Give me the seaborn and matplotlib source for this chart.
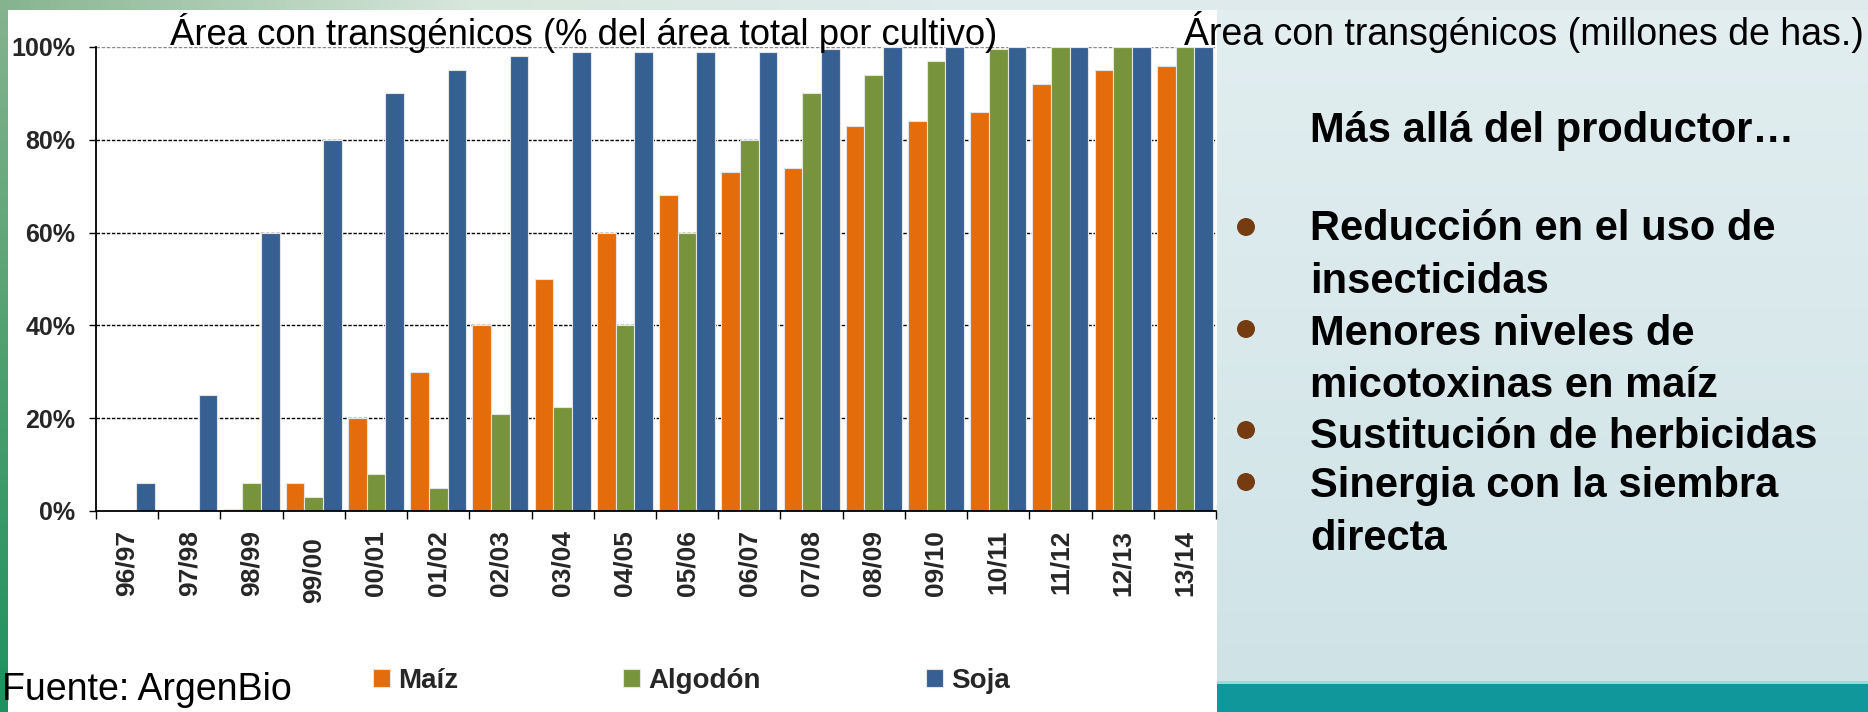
import numpy as np
import pandas as pd
import matplotlib
matplotlib.use("Agg")
import matplotlib.pyplot as plt
import seaborn as sns
from matplotlib.patches import Rectangle, Ellipse
from matplotlib.colors import LinearSegmentedColormap
from matplotlib.transforms import ScaledTranslation

# ---------------- data ----------------
campanas = ['96/97', '97/98', '98/99', '99/00', '00/01', '01/02', '02/03', '03/04', '04/05',
            '05/06', '06/07', '07/08', '08/09', '09/10', '10/11', '11/12', '12/13', '13/14']
maiz = [0, 0, 0.5, 6, 20, 30, 40, 50, 60, 68, 73, 74, 83, 84, 86, 92, 95, 96]
algodon = [0, 0, 6, 3, 8, 5, 21, 22.5, 40, 60, 80, 90, 94, 97, 99.5, 100, 100, 100]
soja = [6, 25, 60, 80, 90, 95, 98, 99, 99, 99, 99, 99.5, 100, 100, 100, 100, 100, 100]
cultivos = ['Maíz', 'Algodón', 'Soja']
colores = ['#E46C0A', '#77933C', '#376092']
y_ticks = [0, 20, 40, 60, 80, 100]

titulo_izq = 'Área con transgénicos (% del área total por cultivo)'
titulo_der = 'Área con transgénicos (millones de has.)'
fuente = 'Fuente: ArgenBio'
encabezado = 'Más allá del productor…'
lineas = ['Reducción en el uso de', 'insecticidas', 'Menores niveles de',
          'micotoxinas en maíz', 'Sustitución de herbicidas',
          'Sinergia con la siembra', 'directa']

df = pd.DataFrame({
    'Campaña': campanas * 3,
    'Cultivo': np.repeat(cultivos, len(campanas)),
    'Valor': maiz + algodon + soja,
})

# ---------------- figure ----------------
sns.set_theme(style='white')
plt.rcParams['font.family'] = ['Liberation Sans', 'DejaVu Sans']

W, H = 1868, 712
fig = plt.figure(figsize=(W / 100, H / 100), dpi=100)
fig.patch.set_facecolor('#d4e6ea')

def fx(px):
    return px / W

def fy(py):
    return 1 - py / H

# slide decoration
bg = fig.add_axes([0, 0, 1, 1], zorder=-10)
bg.set_xlim(0, W); bg.set_ylim(H, 0); bg.axis('off')
grad = np.linspace(0, 1, 256).reshape(-1, 1)
bg.imshow(grad, extent=(1217, W, 683, 10), aspect='auto',
          cmap=LinearSegmentedColormap.from_list('r', ['#e2eef0', '#cfe3e7']), zorder=0)
bg.add_patch(Rectangle((1217, 683), W - 1217, H - 683, facecolor='#0f979c', edgecolor='none', zorder=1))
bg.add_patch(Rectangle((1217, 681), W - 1217, 3, facecolor='#9fd6d8', edgecolor='none', zorder=1))
hgrad = np.linspace(0, 1, 512).reshape(1, -1)
bg.imshow(hgrad, extent=(0, W, 10, 0), aspect='auto',
          cmap=LinearSegmentedColormap.from_list('t', ['#86b48f', '#d8e7dc', '#dfeaec', '#dfeaec', '#dfeaec']), zorder=1)
vgrad = np.linspace(0, 1, 256).reshape(-1, 1)
bg.imshow(vgrad, extent=(0, 8, H, 0), aspect='auto',
          cmap=LinearSegmentedColormap.from_list('l', ['#86b48f', '#4fa06f', '#1e9160']), zorder=2)
bg.add_patch(Rectangle((8, 10), 1217 - 8, H - 10, facecolor='white', edgecolor='none', zorder=3))

# ---------------- chart ----------------
ax = fig.add_axes([fx(96), fy(511), fx(1216) - fx(96), fy(47) - fy(511)])
ax.set_facecolor('none')
sns.barplot(data=df, x='Campaña', y='Valor', hue='Cultivo', hue_order=cultivos,
            palette=colores, saturation=1, width=0.9, gap=0,
            edgecolor='#e4e4e4', linewidth=0.8, ax=ax, legend=True)

ax.set_xlim(-0.5, len(campanas) - 0.5)
ax.set_ylim(0, 100)
ax.set_xlabel('')
ax.set_ylabel('')

ax.set_yticks(y_ticks)
ax.set_yticklabels([f'{v}%' for v in y_ticks], fontsize=18, fontweight='bold')
ax.set_xticks(range(len(campanas)))
ax.set_xticklabels(campanas, rotation=90, fontsize=19, fontweight='bold')
ax.set_xticks(np.arange(-0.5, len(campanas), 1), minor=True)

ax.tick_params(axis='y', which='major', left=True, length=5, width=1, color='black', pad=10)
ax.tick_params(axis='x', which='major', bottom=True, length=0, pad=13.5)
ax.tick_params(axis='x', which='minor', bottom=True, length=6, width=1, color='black')

# the '99/00' label sits a little lower in the original
lbl = ax.get_xticklabels()[3]
lbl.set_transform(lbl.get_transform() + ScaledTranslation(0, -0.07, fig.dpi_scale_trans))

ax.yaxis.grid(True, linestyle=(0, (2.5, 1.2)), color='black', linewidth=1)
ax.set_axisbelow(True)
gl = ax.get_ygridlines()
gl[-1].set_color('#8a8a8a')

for s in ['top', 'right']:
    ax.spines[s].set_visible(False)
for s in ['left', 'bottom']:
    ax.spines[s].set_color('black')
    ax.spines[s].set_linewidth(1.3)

sns.move_legend(ax, loc='center left', bbox_to_anchor=(fx(373), fy(681)),
                bbox_transform=fig.transFigure, ncol=3, frameon=False, title=None,
                prop={'weight': 'bold', 'size': 20}, handlelength=0.6, handleheight=0.6,
                handletextpad=0.3, columnspacing=5.95, borderpad=0, borderaxespad=0)

# ---------------- texts ----------------
fig.text(fx(584), fy(45), titulo_izq, ha='center', va='baseline', fontsize=26.3, color='black')
fig.text(fx(1864), fy(45), titulo_der, ha='right', va='baseline', fontsize=27, color='black')
fig.text(fx(2), fy(700), fuente, ha='left', va='baseline', fontsize=27, color='black')

fig.text(fx(1310), fy(142), encabezado, ha='left', va='baseline', fontsize=30,
         fontweight='bold', color='black')
baselines = [240, 293, 345, 397, 448, 497, 550]
for t, b in zip(lineas, baselines):
    fig.text(fx(1310), fy(b), t, ha='left', va='baseline', fontsize=30,
             fontweight='bold', color='black')
for b in [227, 329, 430, 482]:
    bg.add_patch(Ellipse((1246, b), 18, 18, facecolor='#743c10', edgecolor='none', zorder=5))

fig.savefig('out.png', dpi=100, facecolor=fig.get_facecolor())
